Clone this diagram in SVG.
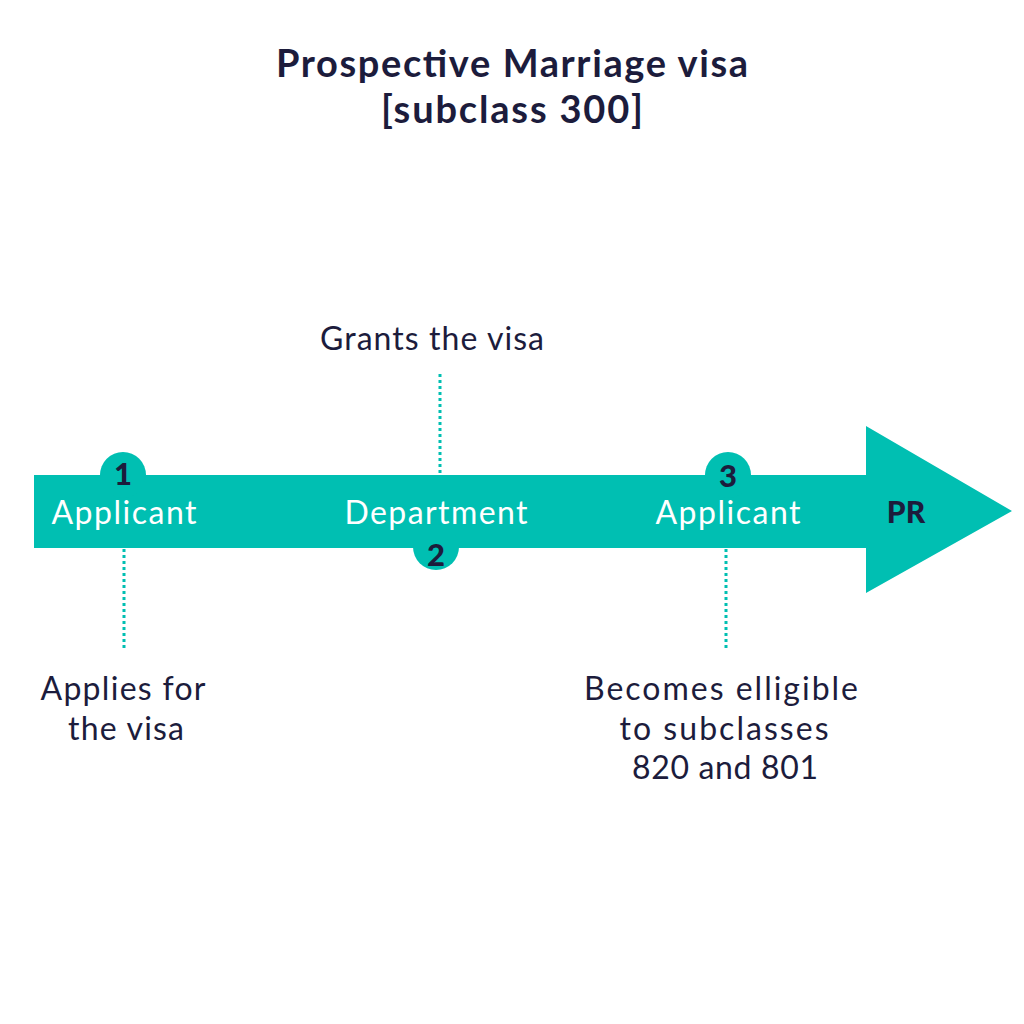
<svg xmlns="http://www.w3.org/2000/svg" width="1024" height="1024" viewBox="0 0 1024 1024">
<style>
.t{font-family:Lato,"Open Sans","Liberation Sans",sans-serif;fill:#1c1c3c;text-anchor:middle}
.title{font-size:38px;font-weight:bold}
.lbl{font-size:32px}
.w{fill:#ffffff;font-size:32px}
.num{font-size:31px;font-weight:900}
.dot{stroke:#00bfb2;stroke-width:3;stroke-dasharray:3 3;fill:none}
.teal{fill:#00bfb2}
</style>
<rect width="1024" height="1024" fill="#ffffff"/>
<g id="title">
<text class="t title" x="512" y="77" textLength="472" lengthAdjust="spacing">Prospective Marriage visa</text>
<text class="t title" x="512" y="123" textLength="262" lengthAdjust="spacing">[subclass 300]</text>
</g>
<g id="arrow">
<path class="teal" d="M34 475 H866 V426 L1012 511 L866 593 V548 H34 Z"/>
<text class="t title" x="906" y="523" style="font-size:30px;font-weight:900">PR</text>
</g>
<g id="connectors">
<line class="dot" x1="124" y1="549" x2="124" y2="650"/>
<line class="dot" x1="440" y1="374" x2="440" y2="474"/>
<line class="dot" x1="726" y1="549" x2="726" y2="650"/>
</g>
<g id="step1">
<circle class="teal" cx="123" cy="475" r="23"/>
<text class="t num" x="123" y="485">1</text>
<text class="t w" x="124" y="524" textLength="145" lengthAdjust="spacing">Applicant</text>
<text class="t lbl" x="123" y="700" textLength="165" lengthAdjust="spacing">Applies for</text>
<text class="t lbl" x="126" y="740" textLength="116" lengthAdjust="spacing">the visa</text>
</g>
<g id="step2">
<circle class="teal" cx="436" cy="547" r="23"/>
<text class="t num" x="436" y="566">2</text>
<text class="t w" x="436" y="524" textLength="183" lengthAdjust="spacing">Department</text>
<text class="t lbl" x="432" y="350" textLength="224" lengthAdjust="spacing">Grants the visa</text>
</g>
<g id="step3">
<circle class="teal" cx="728" cy="475" r="23"/>
<text class="t num" x="728" y="487">3</text>
<text class="t w" x="728" y="524" textLength="145" lengthAdjust="spacing">Applicant</text>
<text class="t lbl" x="721" y="700" textLength="274" lengthAdjust="spacing">Becomes elligible</text>
<text class="t lbl" x="724" y="740" textLength="209" lengthAdjust="spacing">to subclasses</text>
<text class="t lbl" x="725" y="779" textLength="186" lengthAdjust="spacing">820 and 801</text>
</g>
</svg>
